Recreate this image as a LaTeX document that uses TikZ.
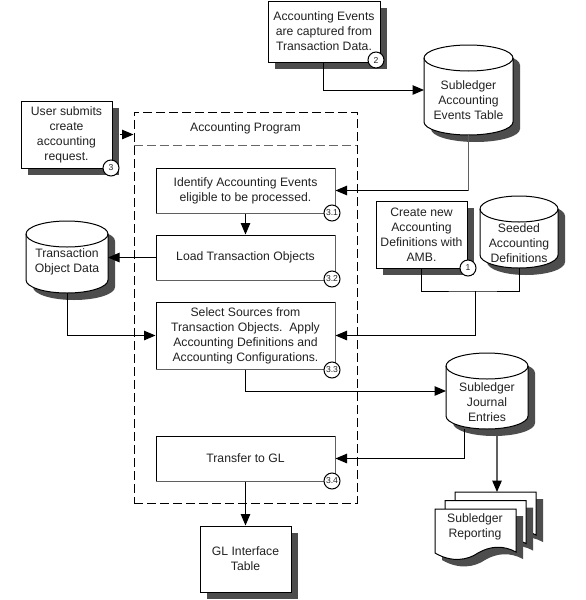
\documentclass[tikz,border=0pt]{standalone}
\usepackage{fontspec}
\setmainfont{Liberation Sans}
\usetikzlibrary{arrows.meta,calc,shadows}
\definecolor{shadowgray}{HTML}{4D4D4D}
\definecolor{inkgray}{HTML}{222222}
\definecolor{edgegray}{HTML}{606060}
\tikzset{
  txt/.style={font=\fontsize{12.2}{14.9}\selectfont,text=inkgray,align=center,inner sep=0pt},
  shadowbox/.style={rectangle,draw=black,fill=white,line width=1pt,inner sep=0pt,txt,
    general shadow={shadow xshift=7pt,shadow yshift=-7pt,fill=shadowgray}},
  procbox/.style={rectangle,draw=black,fill=white,line width=1pt,inner sep=0pt,txt,
    minimum width=179pt},
  softedge/.style={draw=edgegray,line width=1.1pt},
  badge/.style={circle,draw=black,fill=white,line width=1pt,minimum size=16pt,inner sep=0pt,
    font=\fontsize{8.6}{10}\selectfont,text=inkgray},
  conn/.style={draw=black,line width=1pt},
  flow/.style={conn,-{Triangle[length=11.5pt,width=9.5pt,color=black]}},
  dashbox/.style={draw=black,line width=1pt,dash pattern=on 9pt off 4pt,inner sep=0pt},
  ghost/.style={inner sep=0pt,outer sep=0pt},
}
\newcommand\dbnode[8]{%
  \pgfmathsetmacro\cx{(#2+#4)/2}\pgfmathsetmacro\rx{(#4-#2)/2}%
  \pgfmathsetmacro\kx{.5523*\rx}\pgfmathsetmacro\ky{.5523*#6}%
  \pgfmathsetmacro\yt{#3+#6}\pgfmathsetmacro\yb{#5-#6}%
  \pgfmathsetmacro\cy{(#3+#5)/2}%
  \def\dboutline{(#2,\yt) .. controls (#2,\yt-\ky) and (\cx-\kx,#3) .. (\cx,#3)
    .. controls (\cx+\kx,#3) and (#4,\yt-\ky) .. (#4,\yt) -- (#4,\yb)
    .. controls (#4,\yb+\ky) and (\cx+\kx,#5) .. (\cx,#5)
    .. controls (\cx-\kx,#5) and (#2,\yb+\ky) .. (#2,\yb) -- cycle}%
  \fill[shadowgray,shift={(7,7)}] \dboutline;
  \draw[fill=white,line width=1pt] \dboutline;
  \draw[line width=1pt] (#2,\yt) .. controls (#2,\yt+\ky) and (\cx-\kx,#3+2*#6) .. (\cx,#3+2*#6)
    .. controls (\cx+\kx,#3+2*#6) and (#4,\yt+\ky) .. (#4,\yt);
  \node[ghost,minimum width=#4pt-#2pt,minimum height=#5pt-#3pt] (#1) at (\cx,\cy) {};
  \node[txt] (#1text) at (\cx,#7) {#8};}
\newcommand\docpath{(435,509) -- (516,509) -- (516,552)
  .. controls (503,545) and (490,546) .. (478,553)
  .. controls (468,560) and (452,563) .. (435,553) -- cycle}
\begin{document}
\begin{tikzpicture}[x=1pt,y=-1pt]
\useasboundingbox (0,0) rectangle (586,600);
\fill[white] (0,0) rectangle (586,600);

% dashed container
\node[dashbox,minimum width=223pt,minimum height=391pt] (prog) at (245.5,307.5) {};
\node[txt,inner sep=0pt,minimum width=223pt,minimum height=33pt] (head) at (245.5,128.5) {Accounting Program};
\draw[dashbox,draw=black!60] (head.south west) -- (head.south east);

% boxes
\node[shadowbox,minimum width=112pt,minimum height=61pt] (cap) at (324,31.5) {Accounting Events\\are captured from\\Transaction Data.};
\node[shadowbox,minimum width=91pt,minimum height=67pt] (user) at (66.5,134.5) {User submits\\create\\accounting\\request.};
\node[shadowbox,minimum width=91pt,minimum height=67pt] (amb) at (421.5,234.5) {Create new\\Accounting\\Definitions with\\AMB.};
\node[shadowbox,minimum width=91pt,minimum height=66pt] (gli) at (245.5,559) {GL Interface\\Table};

\node[procbox,minimum height=45pt] (p1) at (245.5,190.5) {Identify Accounting Events\\eligible to be processed.};
\node[procbox,minimum height=45pt] (p2) at (245.5,257.5) {Load Transaction Objects};
\node[procbox,minimum height=67pt] (p3) at (245.5,335.5) {Select Sources from\\Transaction Objects.\ \ Apply\\Accounting Definitions and\\Accounting Configurations.};
\node[procbox,minimum height=45pt] (p4) at (245.5,458.5) {Transfer to GL};
\foreach \p in {p1,p2,p3,p4}
  \draw[softedge] (\p.north east) -- (\p.south east) -- (\p.south west);

% data stores
\dbnode{sae}{424}{45}{513}{135}{13}{100}{Subledger\\Accounting\\Events Table}
\dbnode{tod}{26}{221}{108}{293}{13}{261.5}{Transaction\\Object Data}
\dbnode{sad}{480}{196}{558}{268}{13}{243}{Seeded\\Accounting\\Definitions}
\dbnode{sje}{446}{353}{528}{429}{13}{402}{Subledger\\Journal\\Entries}

% report stack
\begin{scope}[shift={(20,-17)}]
  \fill[shadowgray,shift={(7,7)}] \docpath;
  \draw[fill=white,line width=1pt] \docpath;
\end{scope}
\begin{scope}[shift={(10,-8.5)}]
  \fill[shadowgray,shift={(7,7)}] \docpath;
  \draw[fill=white,line width=1pt] \docpath;
\end{scope}
\fill[shadowgray,shift={(7,7)}] \docpath;
\draw[fill=white,line width=1pt] \docpath;
\node[txt] (rep) at (475,527) {Subledger\\Reporting};
\coordinate (repTop) at (497,492);

% connectors
\coordinate (capOut) at ($(cap.south west)+(56,0)$);
\draw[flow] (capOut) |- (sae.west);
\draw[flow] ($(user.east)+(7,0)$) -- (prog.west |- user.east);
\draw[flow] (sae.south) |- (p1.east);
\draw[softedge] (sae.south) -- (sae.south |- p1.east);
\draw[flow] (p1.south) -- (p2.north);
\draw[flow] (p2.west) -- (tod.east |- p2.west);
\draw[flow] (tod.south) |- (p3.west);
\coordinate (defRail) at (475,291);
\draw[conn] (amb.south) |- (defRail) -| (sad.south);
\draw[flow] (defRail) |- (p3.east);
\draw[flow] (p3.south) |- (sje.west);
\draw[flow] ($(sje.south west)+(18,0)$) |- (p4.east);
\draw[flow,draw=edgegray,line width=1.3pt] ($(sje.south west)+(51,7)$) -- (repTop);
\draw[flow] (p4.south) -- (gli.north);

% badges
\node[badge] (b2) at (376,60) {2};
\node[badge] (b3) at (111,168) {3};
\node[badge] (b1) at (468,268) {1};
\node[badge] (b31) at (332,213) {3.1};
\node[badge] (b32) at (332,279) {3.2};
\node[badge] (b33) at (332,370) {3.3};
\node[badge] (b34) at (332,481) {3.4};
\end{tikzpicture}
\end{document}
